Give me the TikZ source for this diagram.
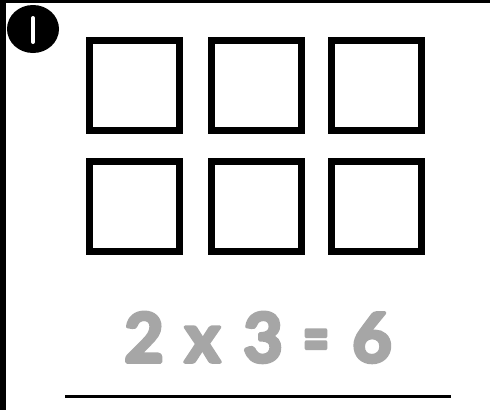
\documentclass[tikz,border=0pt]{standalone}
\usepackage{fontspec}
\usepackage{graphicx}
\setmainfont{Lato}
\usetikzlibrary{shapes.geometric}
\definecolor{txtgray}{HTML}{A6A6A6}
\newcommand{\rndtxt}[1]{\color{txtgray}\special{pdf:literal direct 2 Tr 1 j 3.5 w}#1\special{pdf:literal direct 0 Tr 1 w 0 j}}
\tikzset{
  box/.style={draw=black, line width=7pt, minimum width=90pt, minimum height=90pt, inner sep=0pt, fill=white},
  badge/.style={ellipse, fill=black, minimum width=52pt, minimum height=48pt, inner sep=0pt},
  eqn/.style={text=txtgray, font=\fontsize{68}{72}\selectfont\bfseries, inner sep=0pt, anchor=base}
}
\begin{document}
\begin{tikzpicture}[x=1pt,y=-1pt]
\useasboundingbox (0,0) rectangle (490,410);
\fill[white] (0,0) rectangle (490,410);
% frame
\fill[black] (0,0) rectangle (490,3);
\fill[black] (0,0) rectangle (5.6,410);
% badge
\node[badge] (bd) at (33,29) {};
\draw[white, line width=4pt, line cap=round] ([yshift=-13pt]bd.center) -- ([yshift=11pt]bd.center);
% squares
\node[box] (s11) at (134.5,85.5) {};
\node[box] (s12) at (256,85.5) {};
\node[box] (s13) at (376.5,85.5) {};
\node[box] (s21) at (134.5,206) {};
\node[box] (s22) at (256,206) {};
\node[box] (s23) at (376.5,206) {};
% equation
\node[eqn] (e1) at (144,362) {\rndtxt{2}};
\node[eqn] (e2) at (202.5,362) {\rndtxt{x}};
\node[eqn] (e3) at (263,362) {\rndtxt{3}};
\node[eqn] (e4) at (316,362) {\scalebox{0.68}[1]{\rndtxt{=}}};
\node[eqn] (e5) at (372,362) {\rndtxt{6}};
% answer line
\coordinate (la) at (65,396.5);
\coordinate (lb) at (451,396.5);
\draw[black, line width=3pt] (la) -- (lb);
\end{tikzpicture}
\end{document}
